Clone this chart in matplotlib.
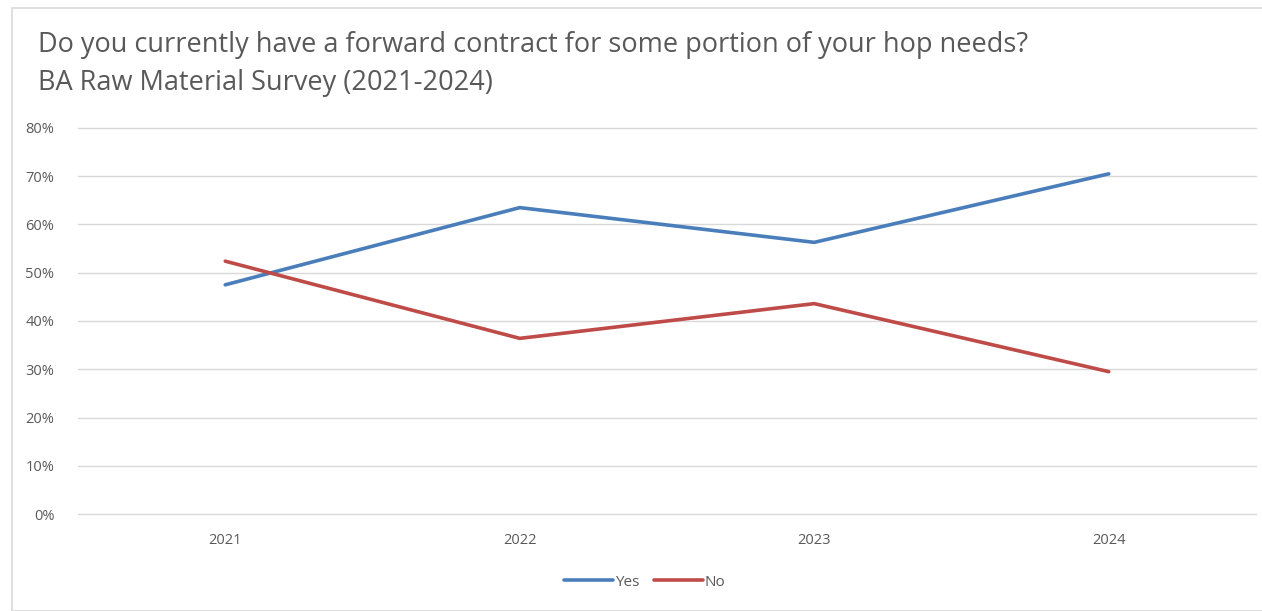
import matplotlib

matplotlib.use("Agg")
import matplotlib.pyplot as plt
from matplotlib.patches import Rectangle
from matplotlib.ticker import PercentFormatter

plt.rcParams["font.family"] = ["Open Sans", "DejaVu Sans"]

years = ["2021", "2022", "2023", "2024"]
yes = [47.5, 63.5, 56.3, 70.5]
no = [52.4, 36.4, 43.6, 29.5]

BLUE = "#4a7ebb"
RED = "#be4b48"
GRID = "#d9d9d9"
TXT = "#595959"

W, H = 1262, 611
fig = plt.figure(figsize=(W / 100, H / 100), dpi=100)
ax = fig.add_axes([78 / W, 1 - 514 / H, (1256 - 78) / W, (514 - 128) / H])

x = range(len(years))
ax.plot(x, yes, color=BLUE, lw=2.6, solid_capstyle="round", label="Yes")
ax.plot(x, no, color=RED, lw=2.6, solid_capstyle="round", label="No")

ax.set_xlim(-0.5, len(years) - 0.5)
ax.set_ylim(0, 80)
ax.set_yticks(range(0, 81, 10))
ax.yaxis.set_major_formatter(PercentFormatter(decimals=0))
ax.set_xticks(list(x))
ax.set_xticklabels(years)
ax.grid(axis="y", color=GRID, lw=1.0)
for g in ax.get_ygridlines():
    g.set_clip_on(False)
ax.set_axisbelow(True)
for s in ax.spines.values():
    s.set_visible(False)
ax.tick_params(length=0, labelsize=10.5, colors=TXT)
ax.tick_params(axis="y", pad=17)
ax.tick_params(axis="x", pad=14)

fig.text(38 / W, 1 - 45 / H, "Do you currently have a forward contract for some portion of your hop needs?",
         fontsize=19.5, color=TXT, va="center", ha="left")
fig.text(38 / W, 1 - 83 / H, "BA Raw Material Survey (2021-2024)",
         fontsize=19.5, color=TXT, va="center", ha="left")

leg = fig.legend(loc="center", bbox_to_anchor=(645 / W, 1 - 582 / H), ncol=2, frameon=False,
                 fontsize=11, handlelength=3.2, handletextpad=0.1, columnspacing=1.0)
for t in leg.get_texts():
    t.set_color(TXT)

fig.patches.append(Rectangle((12 / W, 0), 1.2, 1 - 8 / H, transform=fig.transFigure,
                             fill=False, edgecolor=GRID, lw=1.2))

fig.savefig("out.png", dpi=100, facecolor="white")
